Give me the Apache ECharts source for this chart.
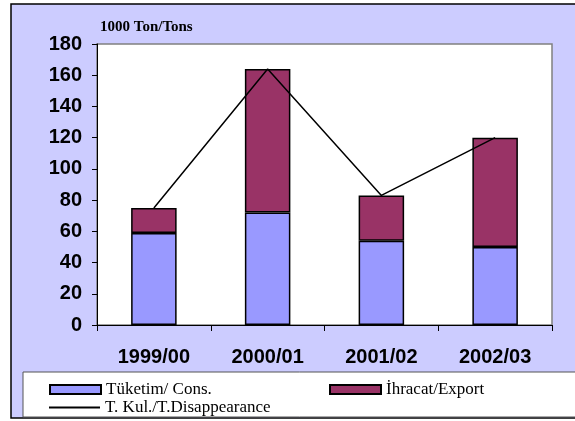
<!DOCTYPE html>
<html><head><meta charset="utf-8">
<script src="https://cdn.jsdelivr.net/npm/echarts@6/dist/echarts.min.js"></script>
<style>html,body{margin:0;padding:0;background:#fff}#c{width:575px;height:421px}</style>
</head><body><div id="c"></div>
<script>
const categories = ['1999/00', '2000/01', '2001/02', '2002/03'];
const consumption = [59, 72, 54, 50];
const exportVals = [16, 92, 29, 70];
const disappearance = [75, 164, 83, 120];
const yTicks = [0, 180, 20];
const names = ['Tüketim/ Cons.', 'İhracat/Export', 'T. Kul./T.Disappearance'];

const chart = echarts.init(document.getElementById('c'), null, {renderer: 'canvas'});
const serif = 'Liberation Serif, Times New Roman, serif';
const sans = 'Liberation Sans, Arial, sans-serif';
const legTxt = {fontFamily: serif, fontSize: 17, color: '#000'};
chart.setOption({
  animation: false,
  graphic: [
    {type: 'rect', z: -10, shape: {x: 11, y: 4, width: 580, height: 414},
     style: {fill: '#CCCCFF', stroke: '#000', lineWidth: 1.5}},
    {type: 'rect', z: -5, shape: {x: 23, y: 372, width: 560, height: 45},
     style: {fill: '#fff', stroke: '#555', lineWidth: 1}}
  ],
  title: {text: '1000 Ton/Tons', left: 95, top: 15,
    textStyle: {fontFamily: serif, fontWeight: 'bold', fontSize: 15, color: '#000'}},
  grid: {left: 97, right: 23, top: 44, bottom: 96, show: true, backgroundColor: '#fff',
    borderColor: '#808080', borderWidth: 1.5},
  legend: [
    {data: [names[0]], left: 44, top: 376, itemWidth: 51, itemHeight: 9, icon: 'rect',
     itemGap: 5, selectedMode: false, textStyle: legTxt},
    {data: [names[1]], left: 324, top: 376, itemWidth: 51, itemHeight: 9, icon: 'rect',
     selectedMode: false, textStyle: legTxt},
    {data: [names[2]], left: 44, top: 394, itemWidth: 51, itemHeight: 2, icon: 'rect',
     selectedMode: false, textStyle: legTxt}
  ],
  xAxis: {type: 'category', data: categories,
    axisLine: {lineStyle: {color: '#000', width: 1}},
    axisTick: {show: true, length: 6, lineStyle: {color: '#000'}},
    axisLabel: {margin: 22, fontFamily: sans, fontWeight: 'bold', fontSize: 20, color: '#000'}},
  yAxis: {type: 'value', min: yTicks[0], max: yTicks[1], interval: yTicks[2],
    splitLine: {show: false},
    axisLine: {show: true, lineStyle: {color: '#000', width: 1}},
    axisTick: {show: true, length: 5, lineStyle: {color: '#000'}},
    axisLabel: {margin: 15, fontFamily: sans, fontWeight: 'bold', fontSize: 20, color: '#000'}},
  series: [
    {name: names[0], type: 'bar', stack: 's', data: consumption, barWidth: '40%',
     itemStyle: {color: '#9999FF', borderColor: '#000', borderWidth: 1.5}},
    {name: names[1], type: 'bar', stack: 's', data: exportVals, barWidth: '40%',
     itemStyle: {color: '#993366', borderColor: '#000', borderWidth: 1.5}},
    {name: names[2], type: 'line', data: disappearance, symbol: 'none', z: 5,
     lineStyle: {color: '#000', width: 1.5}, itemStyle: {color: '#000'}}
  ]
});
</script></body></html>
